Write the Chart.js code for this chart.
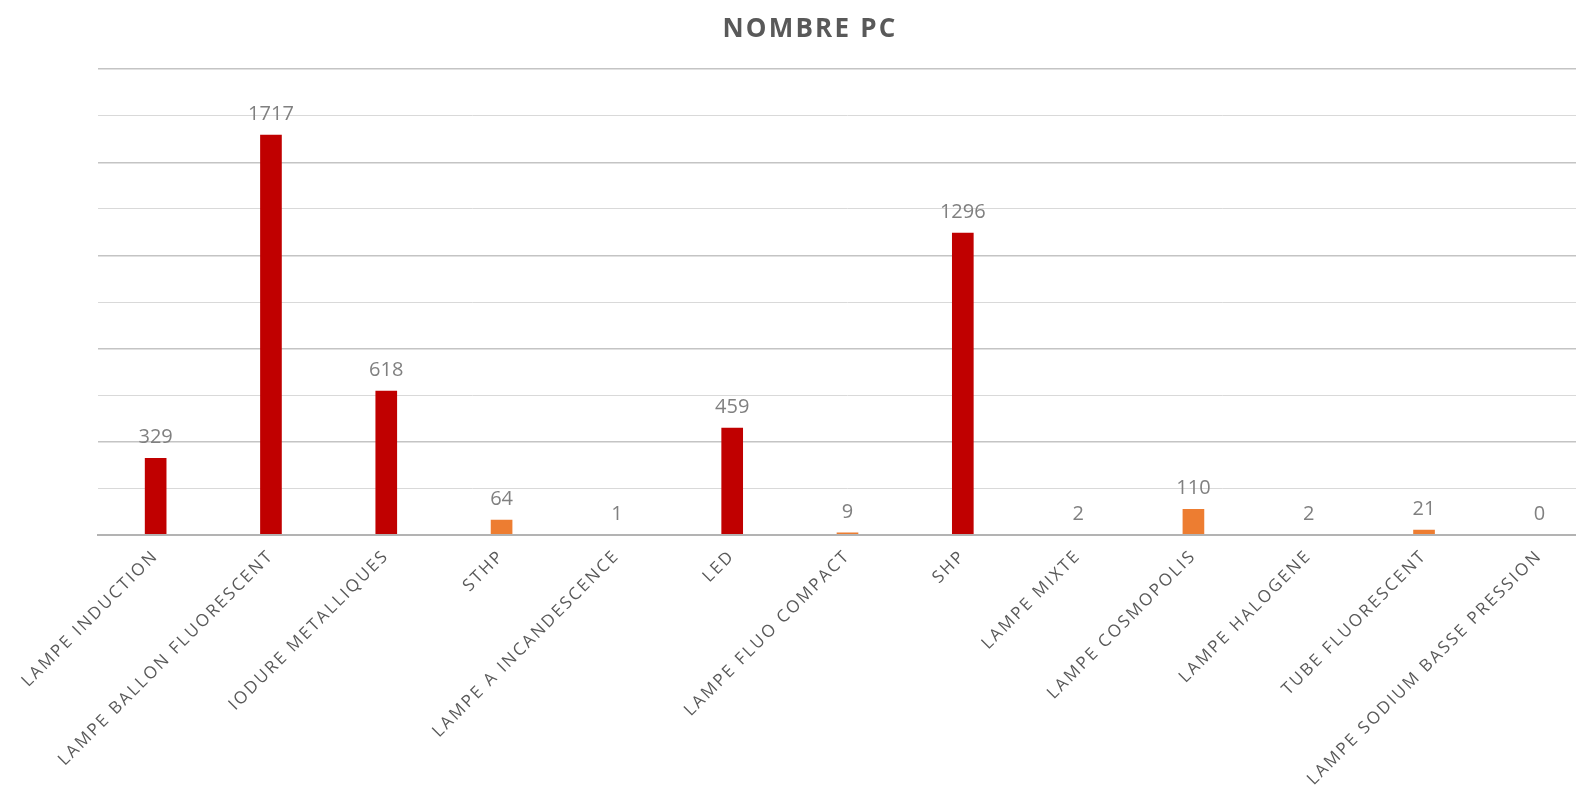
<!DOCTYPE html>
<html lang="fr">
<head>
<meta charset="utf-8">
<title>Nombre PC</title>
<script src="https://cdn.jsdelivr.net/npm/chart.js@4.4.1/dist/chart.umd.min.js"></script>
<style>
  html, body { margin: 0; padding: 0; background: #fff; overflow: hidden; }
  .chart-box { position: relative; width: 1620px; height: 796px; }
</style>
</head>
<body>
<div class="chart-box">
  <canvas id="pcChart"></canvas>
</div>
<script>
// Types de lampes et nombre de points lumineux
const lampTypes = [
    'LAMPE INDUCTION', 'LAMPE BALLON FLUORESCENT', 'IODURE METALLIQUES', 'STHP',
    'LAMPE A INCANDESCENCE', 'LED', 'LAMPE FLUO COMPACT', 'SHP', 'LAMPE MIXTE',
    'LAMPE COSMOPOLIS', 'LAMPE HALOGENE', 'TUBE FLUORESCENT', 'LAMPE SODIUM BASSE PRESSION'
];
const pcCounts = [329, 1717, 618, 64, 1, 459, 9, 1296, 2, 110, 2, 21, 0];
const barColors = [
    '#C00000', '#C00000', '#C00000', '#ED7D31', '#ED7D31', '#C00000', '#ED7D31',
    '#C00000', '#ED7D31', '#ED7D31', '#ED7D31', '#ED7D31', '#ED7D31'
];
const yMax = 2000;
const yStep = 200;

// wide letter spacing for title and category labels
const spacingPlugin = {
    id: 'spacing',
    beforeDraw(chart) {
        chart.ctx.letterSpacing = '2.2px';
    }
};

// value written above each bar
const valueLabels = {
    id: 'valueLabels',
    afterDatasetsDraw(chart) {
        const ctx = chart.ctx;
        const meta = chart.getDatasetMeta(0);
        ctx.save();
        ctx.letterSpacing = '0px';
        ctx.font = '20px "Open Sans"';
        ctx.fillStyle = '#808080';
        ctx.textAlign = 'center';
        ctx.textBaseline = 'alphabetic';
        meta.data.forEach((bar, i) => {
            ctx.fillText(String(pcCounts[i]), bar.x, bar.y - 15);
        });
        ctx.restore();
    }
};

const ctx = document.getElementById('pcChart').getContext('2d');

new Chart(ctx, {
    type: 'bar',
    data: {
        labels: lampTypes,
        datasets: [{
            label: 'NOMBRE PC',
            data: pcCounts,
            backgroundColor: barColors,
            borderWidth: 0,
            barThickness: 21
        }]
    },
    options: {
        responsive: true,
        maintainAspectRatio: false,
        animation: false,
        layout: { padding: 0 },
        plugins: {
            legend: { display: false },
            tooltip: { enabled: false },
            title: {
                display: true,
                text: 'NOMBRE PC',
                color: '#595959',
                font: { family: '"Open Sans"', size: 26, weight: 'bold' },
                padding: { top: 14, bottom: 24 }
            }
        },
        scales: {
            x: {
                grid: { display: false },
                // axis line drawn over the bars, like the base line of the sheet chart
                border: { display: true, color: '#b3b3b3', width: 2, z: 1 },
                ticks: {
                    color: '#595959',
                    font: { family: '"Open Sans"', size: 17 },
                    minRotation: 45,
                    maxRotation: 45,
                    autoSkip: false,
                    padding: 3
                },
                afterFit(scale) { scale.height = 261; }
            },
            y: {
                min: 0,
                max: yMax,
                ticks: { display: false, stepSize: yStep },
                border: { display: false },
                grid: {
                    drawTicks: false,
                    color: (c) => c.index === 0 ? 'rgba(0,0,0,0)' : (c.tick.value % 400 === 0 ? '#c4c4c4' : '#d9d9d9'),
                    lineWidth: (c) => c.tick.value % 400 === 0 ? 1.5 : 1
                },
                afterFit(scale) { scale.width = 98; }
            },
            yRight: {
                position: 'right',
                display: true,
                ticks: { display: false },
                grid: { display: false },
                border: { display: false },
                afterFit(scale) { scale.width = 23; }
            }
        }
    },
    plugins: [spacingPlugin, valueLabels]
});
</script>
</body>
</html>
